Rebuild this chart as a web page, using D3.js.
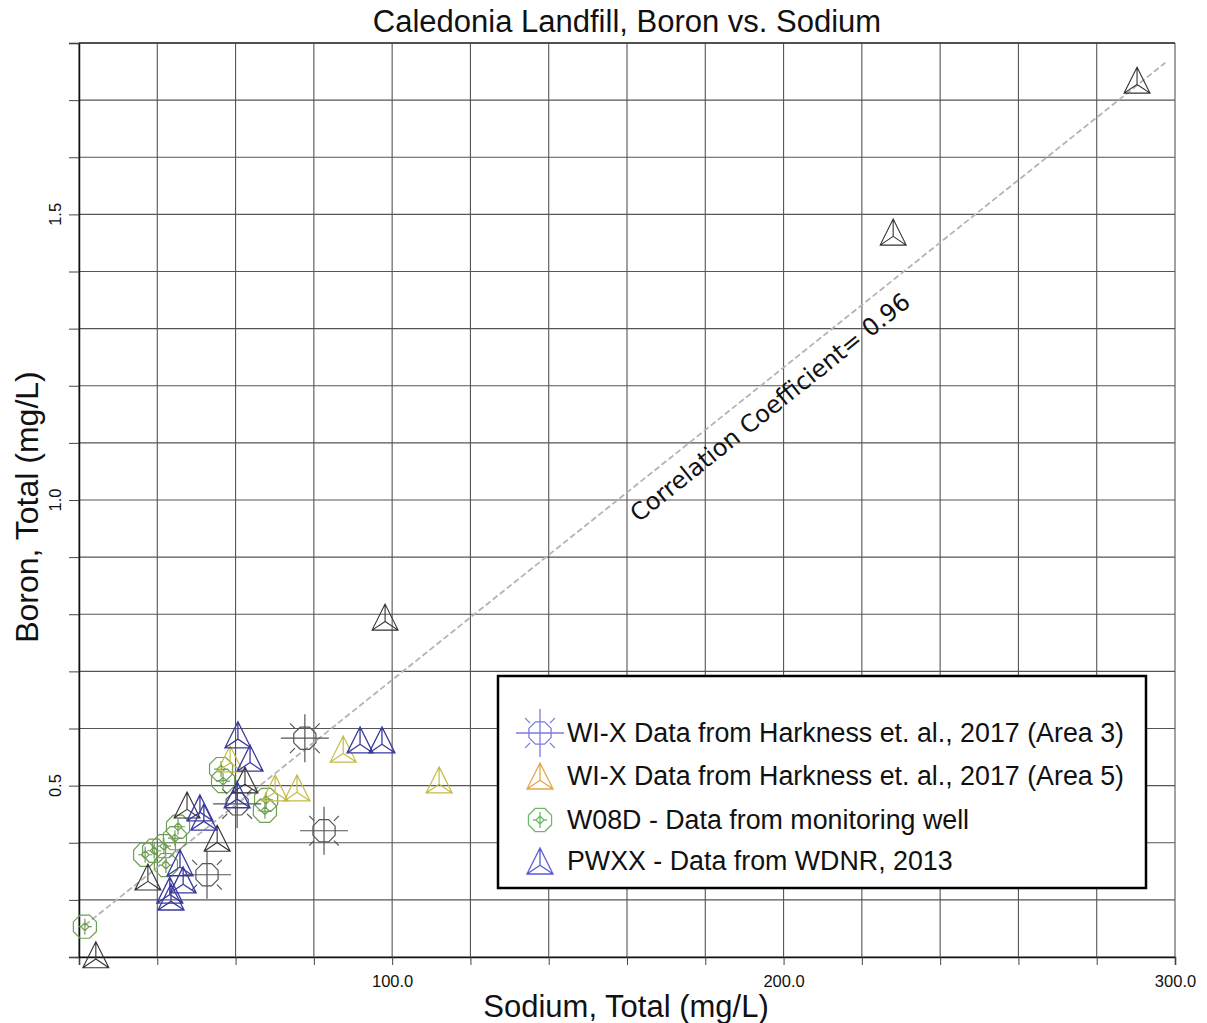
<!DOCTYPE html>
<html lang="en">
<head>
<meta charset="utf-8">
<title>Caledonia Landfill, Boron vs. Sodium</title>
<script src="https://cdn.jsdelivr.net/npm/d3@7"></script>
<style>
  body { margin: 0; background: #fff; }
  text { font-family: "Liberation Sans", Arial, sans-serif; fill: #111; }
</style>
</head>
<body>
<div id="chart"></div>
<script>
// ---- data ----
// WI-X Data from Harkness et. al., 2017 (Area 3)
var area3Na = [77.7, 82.6, 52.7, 60.4];
var area3B  = [0.583, 0.421, 0.344, 0.468];
// WI-X Data from Harkness et. al., 2017 (Area 5)
var area5Na = [58.6, 70.1, 75.7, 87.5, 112.0];
var area5B  = [0.547, 0.496, 0.496, 0.564, 0.510];
// W08D - monitoring well
var w08dNa = [21.5, 56.3, 56.8, 67.5, 67.8, 45.3, 44.5, 41.7, 39.2, 36.9, 42.2];
var w08dB  = [0.253, 0.529, 0.508, 0.456, 0.475, 0.428, 0.408, 0.394, 0.386, 0.379, 0.361];
// PWXX - WDNR, 2013
var pwxxNa = [60.6, 63.7, 60.4, 50.9, 51.9, 45.8, 46.6, 43.2, 43.5, 91.8, 97.4];
var pwxxB  = [0.589, 0.548, 0.484, 0.461, 0.445, 0.365, 0.335, 0.317, 0.305, 0.580, 0.580];
// dark triangles, no legend entry
var otherNa = [290.3, 228.0, 98.2, 24.3, 47.6, 55.3, 37.6, 62.4];
var otherB  = [1.735, 1.469, 0.795, 0.204, 0.466, 0.408, 0.340, 0.510];

// fitted line
var fitSlope = 0.00547, fitIntercept = 0.138, fitRange = [21.5, 297.5];
var corrLabel = "Correlation Coefficient= 0.96";

var xTicks = d3.range(20, 301, 20);
var xLabels = [100, 200, 300];
var yTicks = d3.range(2, 19).map(function(d) { return d / 10; });
var yLabels = [0.5, 1.0, 1.5];

var legendLabels = [
  "WI-X Data from Harkness et. al., 2017 (Area 3)",
  "WI-X Data from Harkness et. al., 2017 (Area 5)",
  "W08D - Data from monitoring well",
  "PWXX - Data from WDNR, 2013"
];

// ---- layout ----
var W = 1207, H = 1023;
var margin = {top: 43, right: 32, bottom: 66, left: 79};

var x = d3.scaleLinear().domain([20, 300]).range([margin.left, W - margin.right]);
var y = d3.scaleLinear().domain([0.2, 1.8]).range([H - margin.bottom, margin.top]);

var svg = d3.select("#chart").append("svg")
    .attr("width", W).attr("height", H);

// grid
svg.append("g").selectAll("line").data(xTicks).enter().append("line")
    .attr("x1", function(d) { return x(d); }).attr("x2", function(d) { return x(d); })
    .attr("y1", y(1.8)).attr("y2", y(0.2))
    .attr("stroke", "#555").attr("stroke-width", 1.1);
svg.append("g").selectAll("line").data(yTicks).enter().append("line")
    .attr("y1", function(d) { return y(d); }).attr("y2", function(d) { return y(d); })
    .attr("x1", x(20)).attr("x2", x(300))
    .attr("stroke", "#555").attr("stroke-width", 1.1);

// axes
var xAxis = svg.append("g")
    .attr("transform", "translate(0," + y(0.2) + ")")
    .call(d3.axisBottom(x).tickValues(xTicks).tickSize(8)
      .tickFormat(function(d) { return xLabels.indexOf(d) >= 0 ? d3.format(".1f")(d) : ""; }));
xAxis.select(".domain").attr("stroke", "#111").attr("stroke-width", 1.5);
xAxis.selectAll(".tick line").attr("stroke", "#444");
xAxis.selectAll("text").attr("font-size", 16.5).attr("dy", "1.15em")
    .style("font-family", "Liberation Sans, Arial, sans-serif");

var yAxis = svg.append("g")
    .attr("transform", "translate(" + x(20) + ",0)")
    .call(d3.axisLeft(y).tickValues(yTicks).tickSize(10).tickFormat(""));
yAxis.select(".domain").attr("stroke", "#111").attr("stroke-width", 1.5);
yAxis.selectAll(".tick line").attr("stroke", "#444");

svg.append("g").selectAll("text").data(yLabels).enter().append("text")
    .attr("transform", function(d) { return "translate(61," + y(d) + ") rotate(-90)"; })
    .attr("text-anchor", "middle")
    .attr("font-size", 16.5)
    .text(function(d) { return d3.format(".1f")(d); });

// top border
svg.append("line")
    .attr("x1", x(20)).attr("x2", x(300)).attr("y1", y(1.8)).attr("y2", y(1.8))
    .attr("stroke", "#333").attr("stroke-width", 1.5);

// titles
svg.append("text").attr("x", 627).attr("y", 32).attr("text-anchor", "middle")
    .attr("font-size", 31).text("Caledonia Landfill, Boron vs. Sodium");
svg.append("text").attr("x", 626).attr("y", 1017).attr("text-anchor", "middle")
    .attr("font-size", 31).text("Sodium, Total (mg/L)");
svg.append("text").attr("transform", "translate(38,507) rotate(-90)").attr("text-anchor", "middle")
    .attr("font-size", 32).text("Boron, Total (mg/L)");

// fit line
function fit(na) { return fitIntercept + fitSlope * na; }
svg.append("line")
    .attr("x1", x(fitRange[0])).attr("y1", y(fit(fitRange[0])))
    .attr("x2", x(fitRange[1])).attr("y2", y(fit(fitRange[1])))
    .attr("stroke", "#b4b4b4").attr("stroke-width", 1.8)
    .attr("stroke-dasharray", "6,3");

var ang = Math.atan2(y(fit(300)) - y(fit(20)), x(300) - x(20)) * 180 / Math.PI;
svg.append("text")
    .attr("transform", "translate(" + x(158) + "," + y(fit(158)) + ") rotate(" + ang + ")")
    .attr("y", 31)
    .style("font-family", "DejaVu Sans, Verdana, sans-serif")
    .attr("font-size", 24)
    .text(corrLabel);

// ---- marker shapes ----
function octagon(r) {
  var p = d3.range(8).map(function(k) {
    var a = (k * 45 + 22.5) * Math.PI / 180;
    return [r * Math.cos(a), r * Math.sin(a)];
  });
  return "M" + p.join("L") + "Z";
}
function crossMarker() {
  var s = octagon(12) + "M-24,0H24M0,-24V24";
  [45, 135, 225, 315].forEach(function(deg) {
    var a = deg * Math.PI / 180;
    s += "M" + 14 * Math.cos(a) + "," + 14 * Math.sin(a) + "L" + 21 * Math.cos(a) + "," + 21 * Math.sin(a);
  });
  return s;
}
function triMarker() {
  var w = 13, h = 13;
  var cy = h / 3;
  return "M0," + (-h) + "L" + (-w) + "," + h + "L" + w + "," + h + "Z" +
    "M0," + cy + "L0," + (-h) + "M0," + cy + "L" + (-w) + "," + h + "M0," + cy + "L" + w + "," + h;
}
function wellMarker() {
  return octagon(12.5) + "M0,-4L4,0L0,4L-4,0Z M0,-8V8 M-7,0H-4 M4,0H7";
}

function drawSeries(na, b, path, color, width) {
  svg.append("g").selectAll("path").data(na).enter().append("path")
    .attr("transform", function(d, i) { return "translate(" + x(d) + "," + y(b[i]) + ")"; })
    .attr("d", path)
    .attr("fill", "none")
    .attr("stroke", color)
    .attr("stroke-width", width);
}

drawSeries(w08dNa, w08dB, wellMarker(), "#6f9f55", 1.2);
drawSeries(area3Na, area3B, crossMarker(), "#555", 1.2);
drawSeries(area5Na, area5B, triMarker(), "#c4bd45", 1.2);
drawSeries(otherNa, otherB, triMarker(), "#333", 1.1);
drawSeries(pwxxNa, pwxxB, triMarker(), "#3a3aa0", 1.3);

// ---- legend ----
var legend = svg.append("g").attr("transform", "translate(498,676)");
legend.append("rect").attr("width", 648).attr("height", 212)
    .attr("fill", "#fff").attr("stroke", "#000").attr("stroke-width", 2.5);

var legendShapes = [crossMarker(), triMarker(), wellMarker(), triMarker()];
var legendColors = ["#7b7be0", "#e3a64a", "#6cba6c", "#5a5ad8"];
var legendRowY = [57, 100, 144, 185];

legendLabels.forEach(function(label, i) {
  legend.append("path")
    .attr("transform", "translate(42," + legendRowY[i] + ")")
    .attr("d", legendShapes[i])
    .attr("fill", "none")
    .attr("stroke", legendColors[i])
    .attr("stroke-width", 1.3);
  legend.append("text")
    .attr("x", 69).attr("y", legendRowY[i] + 9)
    .attr("font-size", 26.8)
    .text(label);
});
</script>
</body>
</html>
